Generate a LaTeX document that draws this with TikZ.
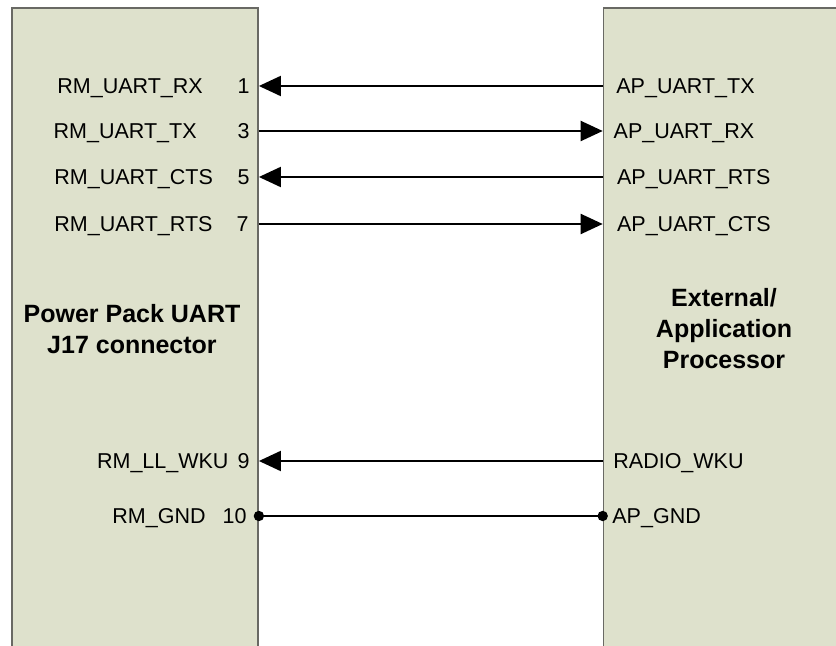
\documentclass[tikz,border=0pt]{standalone}
\usepackage{fontspec}
\setmainfont{Liberation Sans}
\usepackage{tikz}
\usetikzlibrary{arrows.meta}

\definecolor{boxfill}{RGB}{222,225,204}
\definecolor{boxedge}{RGB}{105,105,100}

\begin{document}
\begin{tikzpicture}[
  x=0.5pt,y=-0.5pt,
  >={Triangle[length=11pt,width=10pt]},
  blockbox/.style={draw=boxedge,fill=boxfill,line width=0.8pt,anchor=north west,
                   minimum height=400pt,inner sep=0pt},
  pinname/.style={anchor=west,inner sep=0pt,text height=7.7pt,text depth=0pt,
                  font=\fontsize{10.75}{13}\selectfont},
  pinnum/.style={pinname,anchor=east},
  title/.style={align=center,font=\fontsize{12.5}{15.5}\selectfont\bfseries},
  sig/.style={line width=1pt}
]
 \path[use as bounding box,clip] (0,0) rectangle (836,646);

 \node[blockbox,minimum width=123pt] (pp) at (11.3,7.3) {};
 \node[blockbox,minimum width=150pt] (ap) at (602.7,7.3) {};

 \node[title] (pptitle) at (132,329) {Power Pack UART\\J17 connector};
 \node[title] (aptitle) at (724,329) {External/\\Application\\Processor};

 % connector pins
 \node[pinname] (rx)  at (57,86)   {RM\_UART\_RX};
 \node[pinnum]  (n1)  at (250,86)  {1};
 \node[pinname] (tx)  at (53.3,131) {RM\_UART\_TX};
 \node[pinnum]  (n3)  at (250,131) {3};
 \node[pinname] (cts) at (54,177) {RM\_UART\_CTS};
 \node[pinnum]  (n5)  at (250,177) {5};
 \node[pinname] (rts) at (54,224) {RM\_UART\_RTS};
 \node[pinnum]  (n7)  at (249,224) {7};
 \node[pinname] (wku) at (96.7,461) {RM\_LL\_WKU};
 \node[pinnum]  (n9)  at (250,461) {9};
 \node[pinname] (gnd) at (112,516) {RM\_GND};
 \node[pinnum]  (n10) at (247,516) {10};

 % processor pins
 \node[pinname] (aptx)  at (616,86)  {AP\_UART\_TX};
 \node[pinname] (aprx)  at (613.3,131) {AP\_UART\_RX};
 \node[pinname] (aprts) at (616.7,177) {AP\_UART\_RTS};
 \node[pinname] (apcts) at (616.7,224) {AP\_UART\_CTS};
 \node[pinname] (radio) at (613,461) {RADIO\_WKU};
 \node[pinname] (apgnd) at (612,516) {AP\_GND};

 \draw[sig,<-] (pp.east |- n1) -- (ap.west |- aptx);
 \draw[sig,->] (pp.east |- n3) -- (ap.west |- aprx);
 \draw[sig,<-] (pp.east |- n5) -- (ap.west |- aprts);
 \draw[sig,->] (pp.east |- n7) -- (ap.west |- apcts);
 \draw[sig,<-] (pp.east |- n9) -- (ap.west |- radio);
 \draw[sig] (pp.east |- n10) -- (ap.west |- apgnd);
 \fill (pp.east |- n10) circle (2.6pt);
 \fill (ap.west |- apgnd) circle (2.6pt);
\end{tikzpicture}
\end{document}
